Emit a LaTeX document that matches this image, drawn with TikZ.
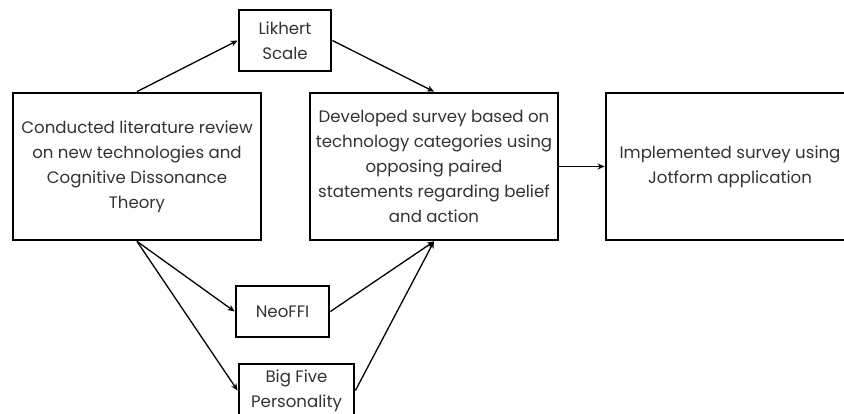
\documentclass[tikz,border=0pt]{standalone}
\usepackage{fontspec}
\setmainfont{Poppins}
\usetikzlibrary{arrows.meta}
\definecolor{txt}{HTML}{333333}
\tikzset{
  box/.style={draw=black, line width=2.8pt, inner sep=0pt, align=center, text=txt, font=\fontsize{16.6}{25}\selectfont},
  conn/.style={line width=1.3pt, -{Stealth[length=7pt,width=6pt]}}
}
\begin{document}
\begin{tikzpicture}[x=1pt,y=-1pt]
\useasboundingbox (0,0) rectangle (844,414);
\clip (0,0) rectangle (844,414);
\fill[white] (0,0) rectangle (844,414);
\node[box, minimum width=248pt, minimum height=147pt] (left) at (137,166.5)
  {Conducted literature review\\on new technologies and\\Cognitive Dissonance\\Theory};
\node[box, minimum width=92pt, minimum height=61pt] (lik) at (285,40.5)
  {Likhert\\Scale};
\node[box, minimum width=248pt, minimum height=147pt] (mid) at (434,166.5)
  {Developed survey based on\\technology categories using\\opposing paired\\statements regarding belief\\and action};
\node[box, minimum width=248pt, minimum height=147pt] (right) at (730,166.5)
  {Implemented survey using\\Jotform application};
\node[box, minimum width=93pt, minimum height=51pt] (neo) at (282.5,311.5)
  {NeoFFI};
\node[box, minimum width=115pt, minimum height=53pt] (big) at (296.5,390.5)
  {Big Five\\Personality};
\draw[conn] (left.north) -- (lik.west);
\draw[conn] (lik.east) -- (mid.north);
\draw[conn] (left.south) -- (neo.west);
\draw[conn] (left.south) -- (big.west);
\draw[conn] (neo.east) -- (mid.south);
\draw[conn] (big.east) -- (mid.south);
\draw[conn] (mid.east) -- (right.west);
\end{tikzpicture}
\end{document}
